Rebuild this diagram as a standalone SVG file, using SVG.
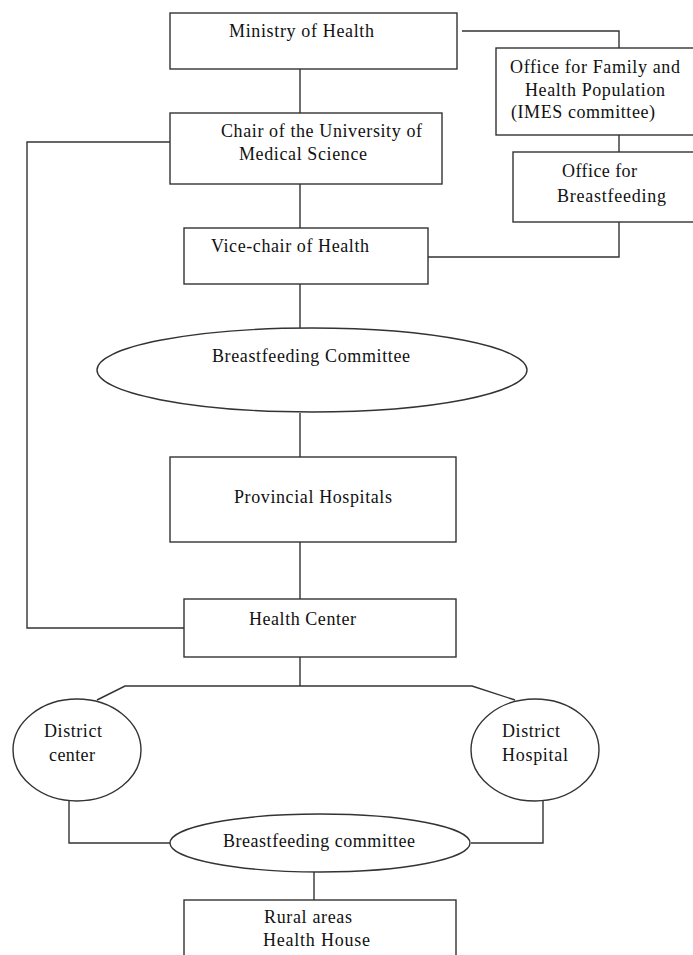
<svg xmlns="http://www.w3.org/2000/svg" width="693" height="955" viewBox="0 0 693 955">
<style>
.n{fill:#fff;stroke:#333;stroke-width:1.4}
.c{fill:none;stroke:#333;stroke-width:1.4}
text{font-family:"Liberation Serif","Times New Roman",serif;font-size:18px;fill:#111}
</style>
<rect width="693" height="955" fill="#fff"/>
<g id="connectors">
<path class="c" d="M300 69V113M300 184V228M300 284V328M300 413V457M300 542V599M300 657V686"/>
<path class="c" d="M462 31H619V48M619 135V152M619 222V257H428"/>
<path class="c" d="M170 142H27V628H184"/>
<path class="c" d="M97 700L125 686H472L515 700"/>
<path class="c" d="M69 800V843H170M471 843H543V800"/>
<path class="c" d="M314 872V900"/>
</g>
<g id="ministry"><rect class="n" x="170" y="13" width="287" height="56"/><text x="229" y="37" textLength="145" lengthAdjust="spacing">Ministry of Health</text></g>
<g id="office-family"><rect class="n" x="496" y="48" width="199" height="87"/><text x="510" y="73" textLength="170" lengthAdjust="spacing">Office for Family and</text><text x="525" y="96" textLength="140" lengthAdjust="spacing">Health Population</text><text x="511" y="118" textLength="144" lengthAdjust="spacing">(IMES committee)</text></g>
<g id="office-breastfeeding"><rect class="n" x="513" y="152" width="182" height="70"/><text x="562" y="177" textLength="75" lengthAdjust="spacing">Office for</text><text x="557" y="202" textLength="109" lengthAdjust="spacing">Breastfeeding</text></g>
<g id="chair"><rect class="n" x="170" y="113" width="272" height="71"/><text x="221" y="137" textLength="201" lengthAdjust="spacing">Chair of the University of</text><text x="239" y="160" textLength="128" lengthAdjust="spacing">Medical Science</text></g>
<g id="vice-chair"><rect class="n" x="184" y="228" width="244" height="56"/><text x="211" y="252" textLength="158" lengthAdjust="spacing">Vice-chair of Health</text></g>
<g id="bf-committee"><ellipse class="n" cx="312" cy="370" rx="215" ry="42"/><text x="212" y="362" textLength="198" lengthAdjust="spacing">Breastfeeding Committee</text></g>
<g id="provincial"><rect class="n" x="170" y="457" width="286" height="85"/><text x="234" y="503" textLength="158" lengthAdjust="spacing">Provincial Hospitals</text></g>
<g id="health-center"><rect class="n" x="184" y="599" width="272" height="58"/><text x="249" y="625" textLength="107" lengthAdjust="spacing">Health Center</text></g>
<g id="district-center"><ellipse class="n" cx="77" cy="750" rx="64" ry="51"/><text x="44" y="737" textLength="58" lengthAdjust="spacing">District</text><text x="49" y="761" textLength="46" lengthAdjust="spacing">center</text></g>
<g id="district-hospital"><ellipse class="n" cx="535" cy="750" rx="64" ry="51"/><text x="502" y="737" textLength="58" lengthAdjust="spacing">District</text><text x="502" y="761" textLength="66" lengthAdjust="spacing">Hospital</text></g>
<g id="bf-committee-2"><ellipse class="n" cx="320" cy="843" rx="150" ry="29"/><text x="223" y="847" textLength="192" lengthAdjust="spacing">Breastfeeding committee</text></g>
<g id="rural"><rect class="n" x="184" y="900" width="272" height="60"/><text x="264" y="923" textLength="88" lengthAdjust="spacing">Rural areas</text><text x="263" y="946" textLength="107" lengthAdjust="spacing">Health House</text></g>
</svg>
